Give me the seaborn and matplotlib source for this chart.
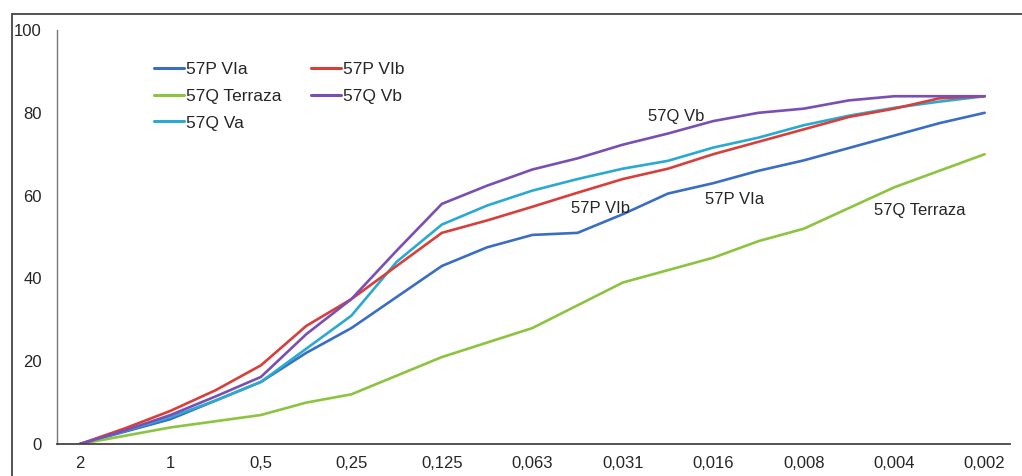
import pandas as pd
import numpy as np
import matplotlib.pyplot as plt
import seaborn as sns
from matplotlib.patches import Rectangle

# tamaños de grano (mm) y posiciones intermedias
tick_labels = ['2', '1', '0,5', '0,25', '0,125', '0,063', '0,031', '0,016', '0,008', '0,004', '0,002']
pasos = [i * 0.5 for i in range(21)]

# % acumulado por muestra
p57_VIa = [0, 3, 6, 10.5, 15, 22, 28, 35.5, 43, 47.5, 50.5, 51, 55.5, 60.5, 63, 66, 68.5, 71.5, 74.5, 77.5, 80]
p57_VIb = [0, 3.8, 8, 13, 19, 28.5, 35, 43, 51, 54, 57.3, 60.7, 64, 66.5, 70, 73, 76, 79, 81, 83.5, 84]
q57_terraza = [0, 2, 4, 5.5, 7, 10, 12, 16.5, 21, 24.5, 28, 33.5, 39, 42, 45, 49, 52, 57, 62, 66, 70]
q57_Vb = [0, 3.3, 7, 11.5, 16.2, 26.5, 35, 46.7, 58, 62.4, 66.3, 69, 72.3, 75, 78, 80, 81, 83, 84, 84, 84]
q57_Va = [0, 3.2, 6.5, 10.5, 15, 23, 31, 44, 53, 57.6, 61.2, 64, 66.5, 68.4, 71.6, 74, 77, 79.3, 81.2, 82.7, 84]

series = {
    '57P VIa': p57_VIa,
    '57Q Terraza': q57_terraza,
    '57Q Va': q57_Va,
    '57P VIb': p57_VIb,
    '57Q Vb': q57_Vb,
}
colores = {
    '57P VIa': '#3a6ec4',
    '57Q Terraza': '#8cc43f',
    '57Q Va': '#2aaad0',
    '57P VIb': '#d83f3a',
    '57Q Vb': '#7a4fb3',
}

df = pd.concat(
    [pd.DataFrame({'phi': pasos, 'pct': v, 'muestra': k}) for k, v in series.items()],
    ignore_index=True,
)

sns.set_style('white')
plt.rcParams['font.family'] = ['Liberation Sans', 'DejaVu Sans']

fig = plt.figure(figsize=(10.22, 4.76), dpi=100)
ax = fig.add_axes([57 / 1022, 1 - 444 / 476, (1010 - 57) / 1022, (444 - 30) / 476])

sns.lineplot(data=df, x='phi', y='pct', hue='muestra', hue_order=list(series.keys()),
             palette=colores, linewidth=1.9, ax=ax, legend=False)

# leyenda (2 columnas, sin marco)
handles = [plt.Line2D([], [], color=colores[k], lw=2.2) for k in series]
ax.legend(handles, list(series.keys()), ncol=2, loc='upper left',
          bbox_to_anchor=(0.085, 0.96), frameon=False, fontsize=12.5,
          handlelength=1.75, handletextpad=0.1, columnspacing=1.7,
          labelspacing=0.66)

# etiquetas sobre las curvas
fs = 12
ax.text(6.59, 79, '57Q Vb', ha='center', va='center', fontsize=fs)
ax.text(5.75, 57, '57P VIb', ha='center', va='center', fontsize=fs)
ax.text(7.23, 59, '57P VIa', ha='center', va='center', fontsize=fs)
ax.text(9.28, 56.5, '57Q Terraza', ha='center', va='center', fontsize=fs)

ax.set_xlim(-0.254, 10.28)
ax.set_ylim(0, 100)
ax.set_xticks(range(11))
ax.set_xticklabels(tick_labels, fontsize=fs)
ax.set_yticks([0, 20, 40, 60, 80, 100])
ax.set_yticklabels(['0', '20', '40', '60', '80', '100'], fontsize=fs)
ax.tick_params(axis='x', length=0, pad=9)
ax.tick_params(axis='y', length=0, pad=11)
ax.set_xlabel('')
ax.set_ylabel('')

for s in ['top', 'right']:
    ax.spines[s].set_visible(False)
ax.spines['left'].set_color('#777777')
ax.spines['left'].set_linewidth(1.0)
ax.spines['bottom'].set_color('#444444')
ax.spines['bottom'].set_linewidth(1.3)

# marco exterior de la figura
fig.patches.append(Rectangle((12 / 1022, -0.05), 1.1, 1 - 14 / 476 + 0.05,
                             transform=fig.transFigure, fill=False,
                             edgecolor='#444444', linewidth=1.3, clip_on=False))

plt.savefig('out.png', dpi=100)
